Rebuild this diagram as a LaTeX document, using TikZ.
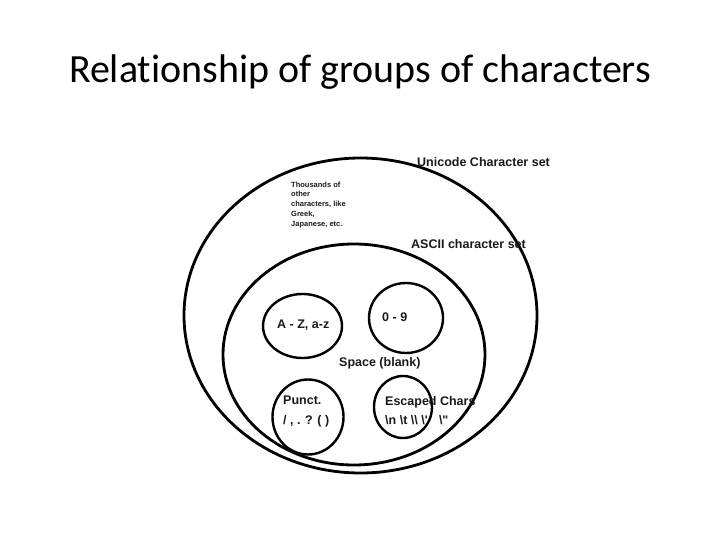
\documentclass[tikz,border=0pt]{standalone}
\usepackage{fontspec}
\setmainfont{Liberation Sans}
\newfontfamily\titlefont[Ligatures=NoCommon]{Carlito}
\usetikzlibrary{shapes.geometric}
\begin{document}
\begin{tikzpicture}[x=1pt,y=-1pt,
  bigset/.style={draw, ellipse, line width=2.8pt, inner sep=0pt},
  subset/.style={draw, ellipse, line width=2.4pt, inner sep=0pt},
  lbl/.style={font=\bfseries\fontsize{12.5}{13}\selectfont, text=black!90, inner sep=0pt, anchor=base west},
  lbltwo/.style={font=\bfseries\fontsize{12.5}{15.5}\selectfont, text=black!90, inner sep=0pt, anchor=north west, align=left},
  small/.style={font=\bfseries\fontsize{7.5}{9.75}\selectfont, text=black!90, inner sep=0pt, anchor=north west, align=left}]
\useasboundingbox (0,0) rectangle (720,540);
\node[font=\titlefont\fontsize{40}{46}\selectfont, anchor=base, inner sep=0pt] (title) at (360,83) {Relationship of groups of characters};
% sets
\node[bigset, minimum width=353pt, minimum height=315pt] (uni) at (360.5,315.5) {};
\node[bigset, minimum width=262pt, minimum height=221pt] (ascii) at (354,354.5) {};
\node[subset, minimum width=79pt, minimum height=64pt] (az) at (302.5,326) {};
\node[subset, minimum width=74pt, minimum height=70pt] (digits) at (406,318) {};
\node[subset, minimum width=71pt, minimum height=75pt] (punct) at (308,417) {};
\node[subset, minimum width=58pt, minimum height=62pt] (esc) at (403,407) {};
% labels
\node[lbl] (unilbl) at (417,167) {Unicode Character set};
\node[small] (other) at (291,181.5) {Thousands of\\other\\characters, like\\Greek,\\Japanese, etc.};
\node[lbl] (asciilbl) at (411,248) {ASCII character set};
\node[lbl] (azlbl) at (277,328) {A - Z, a-z};
\node[lbl] (diglbl) at (382,321) {0 - 9};
\node[lbl] (spacelbl) at (339,366) {Space (blank)};
\node[lbltwo] (punctlbl) at (283,396) {Punct.\\[4pt]/ , . ? ( )};
\node[lbltwo] (esclbl) at (385,396) {Escaped Chars\\[4pt]\textbackslash n \textbackslash t \textbackslash\textbackslash\ \textbackslash\textquotesingle\hspace{0.9em}\textbackslash\textquotedbl};
\end{tikzpicture}
\end{document}
